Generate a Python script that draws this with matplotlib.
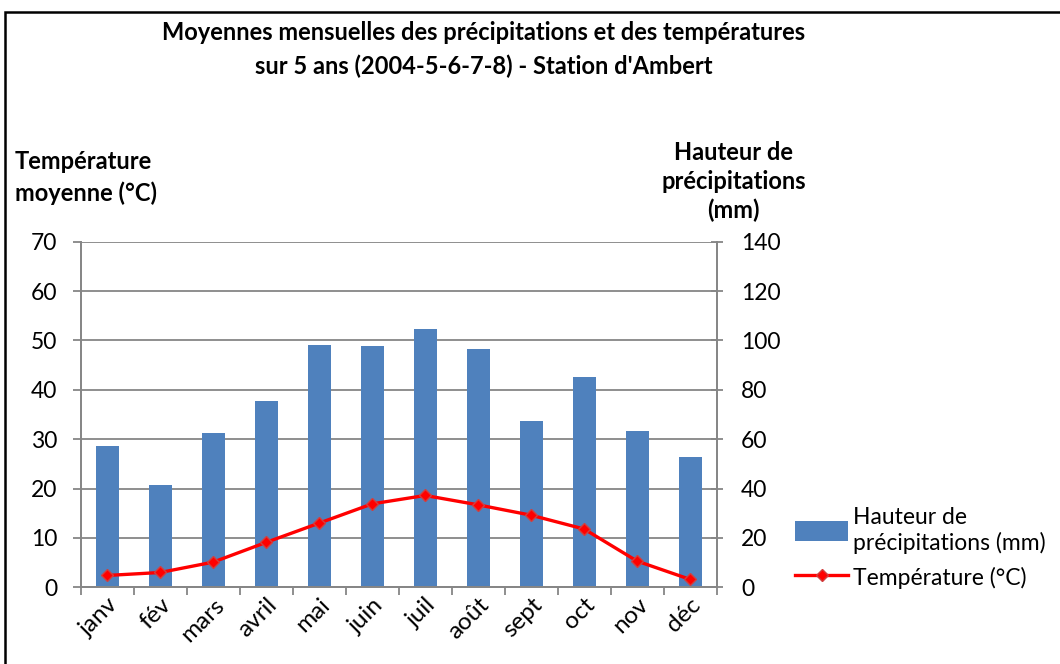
import matplotlib.pyplot as plt
import matplotlib.patches as patches
import matplotlib.transforms as mtransforms
import numpy as np

plt.rcParams['font.family'] = ['Lato', 'DejaVu Sans']

mois = ['janv', 'fév', 'mars', 'avril', 'mai', 'juin', 'juil', 'août', 'sept', 'oct', 'nov', 'déc']
precip = [57.2, 41.3, 62.5, 75.4, 98.2, 97.6, 104.5, 96.4, 67.3, 85.1, 63.4, 52.8]
temp = [2.4, 3.0, 5.1, 9.1, 13.0, 16.9, 18.6, 16.7, 14.6, 11.8, 5.3, 1.6]

grey = '#868686'
fig = plt.figure(figsize=(10.6, 6.64), dpi=100)
ax = fig.add_axes([0.0761, 0.1155, 0.6, 0.5205])
ax2 = ax.twinx()

x = np.arange(len(mois))
# bars on right axis (mm), gridlines behind them
ax2.bar(x, precip, width=0.43, color='#4F81BD', label='Hauteur de\nprécipitations (mm)', zorder=2)
ax2.set_ylim(0, 140)
ax2.set_yticks(np.arange(0, 141, 20))
ax2.grid(axis='y', color=grey, lw=1.3, zorder=0)
ax2.set_axisbelow(True)

# temperature line on left axis, drawn above the bars
ax.set_zorder(ax2.get_zorder() + 1)
ax.patch.set_visible(False)
ax.plot(x, temp, color='#FF0000', lw=2.4, marker='D', ms=6, mfc='#FF0000', mec='#D04040',
        label='Température (°C)', zorder=3)
ax.set_ylim(0, 70)
ax.set_yticks(np.arange(0, 71, 10))
ax.set_xlim(-0.5, 11.5)

ax.set_xticks(np.arange(-0.5, 12, 1))
ax.set_xticklabels([])
ax.set_xticks(x, minor=True)
ax.set_xticklabels(mois, minor=True, rotation=45, ha='right', rotation_mode='anchor', fontsize=17.5)
shift = mtransforms.ScaledTranslation(12 / 100, 0, fig.dpi_scale_trans)
for lab in ax.get_xticklabels(minor=True):
    lab.set_transform(lab.get_transform() + shift)
ax.tick_params(axis='x', which='major', length=6, color=grey, width=1.3)
ax.tick_params(axis='x', which='minor', length=0, pad=5)
ax.tick_params(axis='y', length=6, color=grey, width=1.3, labelsize=16.5, pad=11)
ax2.tick_params(axis='y', length=9, direction='inout', color=grey, width=1.3, labelsize=16.5, pad=13)

for a in (ax, ax2):
    a.spines['top'].set_visible(False)
    for s in ('left', 'right', 'bottom'):
        a.spines[s].set_color(grey)
        a.spines[s].set_linewidth(1.3)

fig.text(0.456, 0.951, 'Moyennes mensuelles des précipitations et des températures',
         ha='center', va='center', fontsize=17, fontweight='bold')
fig.text(0.456, 0.9, "sur 5 ans (2004-5-6-7-8) - Station d'Ambert",
         ha='center', va='center', fontsize=17, fontweight='bold')
fig.text(0.014, 0.733, 'Température\nmoyenne (°C)', ha='left', va='center',
         fontsize=17, fontweight='bold', linespacing=1.45)
fig.text(0.692, 0.726, 'Hauteur de\nprécipitations\n(mm)', ha='center', va='center',
         fontsize=17, fontweight='bold', linespacing=1.3)

h1, l1 = ax2.get_legend_handles_labels()
h2, l2 = ax.get_legend_handles_labels()
fig.legend(h1 + h2, l1 + l2, loc='center left', bbox_to_anchor=(0.731, 0.175), frameon=False,
           fontsize=16.5, handlelength=2.3, handleheight=1.0, handletextpad=0.2, labelspacing=0.55)

fig.add_artist(patches.Rectangle((5 / 1060, -0.1), 2, (664 - 12) / 664 + 0.1,
                                 transform=fig.transFigure, fill=False, ec='black', lw=1.8))

fig.savefig('out.png', dpi=100)
